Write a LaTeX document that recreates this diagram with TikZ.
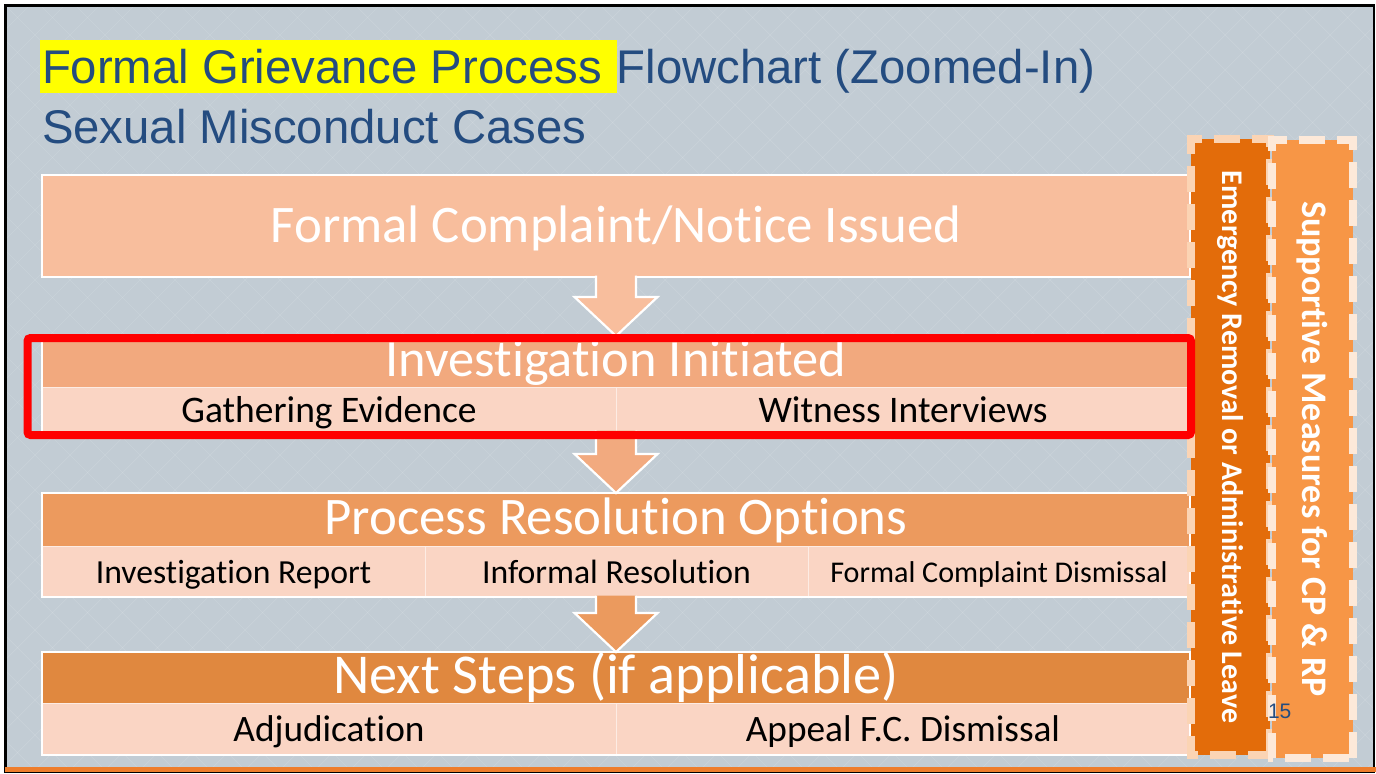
\documentclass[tikz,border=0pt]{standalone}
\usepackage{fontspec}
\setmainfont{Carlito}[Ligatures=NoCommon]
\newfontfamily\arialfont{Liberation Sans}
\usetikzlibrary{calc}

\definecolor{titleblue}{HTML}{244C80}
\definecolor{hlyellow}{HTML}{FFFF00}
\definecolor{bgedge}{HTML}{C2CCD4}
\definecolor{bgmid}{HTML}{E0EAF0}
\definecolor{barorange}{HTML}{EE7D2C}
\definecolor{boxA}{HTML}{F8BE9D}
\definecolor{headB}{HTML}{F2A97E}
\definecolor{headC}{HTML}{EC9A5E}
\definecolor{headD}{HTML}{E0883F}
\definecolor{cellfill}{HTML}{FAD5C4}
\definecolor{arrowA}{HTML}{F8BE9D}
\definecolor{arrowB}{HTML}{F2AA7F}
\definecolor{arrowC}{HTML}{EB9A5E}
\definecolor{emergfill}{HTML}{E36C0A}
\definecolor{emergline}{HTML}{FBD4B4}
\definecolor{suppfill}{HTML}{F79646}
\definecolor{suppline}{HTML}{FDE9D9}

\begin{document}
\begin{tikzpicture}[x=1pt, y=-1pt,
   every node/.style={inner sep=0pt, outer sep=0pt},
   titletext/.style={font=\arialfont\fontsize{47.3}{55}\selectfont, text=titleblue, anchor=base west},
   complaintbox/.style={draw=white, line width=2.5pt, fill=boxA, text=white,
      minimum width=1148, minimum height=102, text height=32pt, text depth=0pt,
      font=\fontsize{52.8}{60}\selectfont},
   headbox/.style={fill=#1, text=white, minimum width=1148, anchor=north west,
      text height=29pt, text depth=0pt},
   cellbox/.style={fill=cellfill, draw=white!55!cellfill, line width=1pt,
      anchor=north west, text=black, text depth=0pt},
   stageframe/.style={draw=white, line width=2.5pt},
   flowarrow/.style={draw=white, line width=2.2pt, line join=miter},
   bgline/.style={white, opacity=0.12, line width=0.7pt},
   sidebox/.style={rotate=-90, line width=8pt, dash pattern=on 26pt off 12pt, text=white}]

% slide background
\fill[white] (0,0) rectangle (1376,772);
\shade[left color=bgedge, middle color=bgmid, right color=bgedge] (6,6) rectangle (1373,767);
\begin{scope}
  \clip (6,6) rectangle (1373,767);
  \foreach \k in {-23,...,62} {
    \draw[bgline] (\k*35,0) -- ++(780,780);
    \draw[bgline] (\k*35,0) -- ++(-780,780);
  }
\end{scope}
\draw[black, line width=2.5pt] (5.5,5.5) rectangle (1373.8,772);
\fill[barorange] (5,766.5) rectangle (1376,772);

% title
\node[titletext, fill=hlyellow, text height=43, text depth=10, inner xsep=2pt] (titlehl) at (40,83) {Formal Grievance Process\kern13pt};
\node[titletext] (titlerest) at (titlehl.base east) {Flowchart (Zoomed-In)};
\node[titletext] (subtitle) at (42,143) {Sexual Misconduct Cases};

% stage 1
\node[complaintbox] (complaint) at (616,226) {Formal Complaint/Notice Issued};

% stage 2
\node[headbox=headB, minimum height=51, font=\fontsize{52.4}{60}\selectfont] (invest) at (42,336) {Investigation Initiated};
\node[cellbox, minimum width=574, minimum height=45, text height=25pt, font=\fontsize{37.5}{44}\selectfont] (investA) at (invest.south west) {Gathering Evidence};
\node[cellbox, minimum width=574, minimum height=45, text height=25pt, font=\fontsize{37.5}{44}\selectfont] (investB) at (investA.north east) {Witness Interviews};
\draw[stageframe] (invest.north west) rectangle (investB.south east);

% stage 3
\node[headbox=headC, minimum height=53, text height=30pt, font=\fontsize{52.8}{60}\selectfont] (resol) at (42,493) {Process Resolution Options};
\node[cellbox, minimum width=383, minimum height=51, text height=23pt, font=\fontsize{33.7}{40}\selectfont] (resolA) at (resol.south west) {Investigation Report};
\node[cellbox, minimum width=383, minimum height=51, text height=23pt, font=\fontsize{33.7}{40}\selectfont] (resolB) at (resolA.north east) {Informal Resolution};
\node[cellbox, minimum width=382, minimum height=51, text height=21pt, font=\fontsize{30.1}{36}\selectfont] (resolC) at (resolB.north east) {Formal Complaint Dismissal};
\draw[stageframe] (resol.north west) rectangle (resolC.south east);

% stage 4
\node[headbox=headD, minimum height=51, text height=31pt, font=\fontsize{56.3}{64}\selectfont] (next) at (42,652) {Next Steps (if applicable)};
\node[cellbox, minimum width=574, minimum height=52, text height=25pt, font=\fontsize{37.3}{44}\selectfont] (nextA) at (next.south west) {Adjudication};
\node[cellbox, minimum width=574, minimum height=52, text height=25pt, font=\fontsize{37.3}{44}\selectfont] (nextB) at (nextA.north east) {Appeal F.C. Dismissal};
\draw[stageframe] (next.north west) rectangle (nextB.south east);

% block arrows between stages
\coordinate (investbot) at (invest.south |- investA.south);
\coordinate (resolbot) at (resol.south |- resolA.south);
\foreach \src/\dst/\col in {complaint.south/invest.north/arrowA, investbot/resol.north/arrowB, resolbot/next.north/arrowC}
  \filldraw[flowarrow, fill=\col] ($(\src)+(-20,-1.5)$) -- ($(\dst)+(-20,-39)$) -- ($(\dst)+(-41.5,-39)$)
     -- (\dst) -- ($(\dst)+(41.5,-39)$) -- ($(\dst)+(20,-39)$) -- ($(\src)+(20,-1.5)$);

% side measures
\node[sidebox, draw=emergline, fill=emergfill, minimum width=616, minimum height=79,
      font=\bfseries\fontsize{30}{36}\selectfont] (emergency) at (1230.5,447) {Emergency Removal or Administrative Leave};
\node[sidebox, draw=suppline, fill=suppfill, minimum width=618, minimum height=81,
      font=\bfseries\fontsize{36}{42}\selectfont] (supportive) at (1312.5,449) {Supportive Measures for CP \& RP};

% zoom highlight
\draw[red, line width=8pt, rounded corners=3pt] (27.5,338) rectangle (1191,435);

\node[font=\arialfont\fontsize{21}{24}\selectfont, text=titleblue, anchor=base west] (pagenum) at (1268,718) {15};

\end{tikzpicture}
\end{document}
